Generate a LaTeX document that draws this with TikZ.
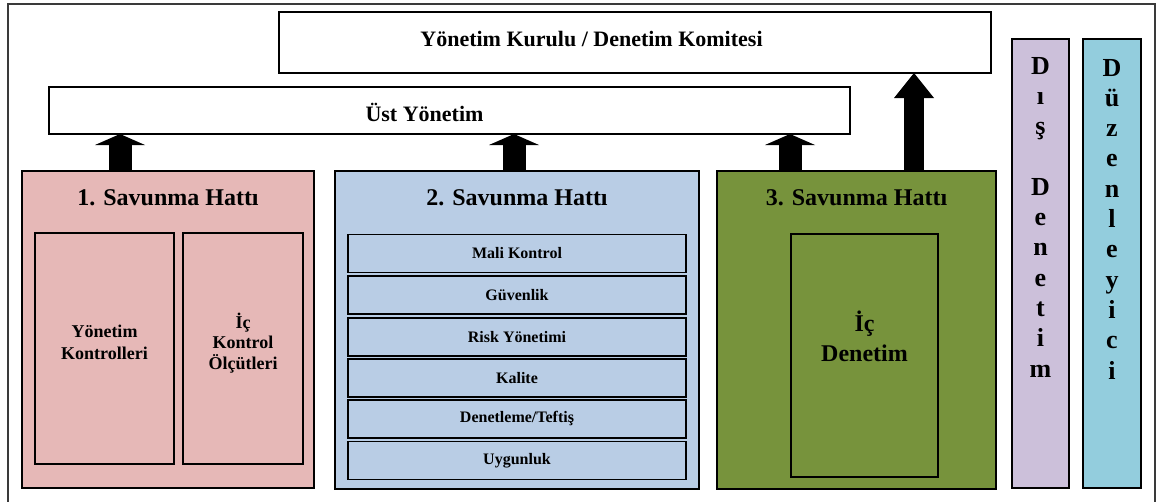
\documentclass[tikz,border=0pt]{standalone}
\usepackage{fontspec}
\setmainfont{Liberation Serif}
\usetikzlibrary{arrows.meta}
\definecolor{pinkf}{HTML}{E6B8B7}
\definecolor{bluef}{HTML}{B9CDE5}
\definecolor{greenf}{HTML}{77933C}
\definecolor{lavf}{HTML}{CCC0DA}
\definecolor{cyanf}{HTML}{93CDDD}
\definecolor{framec}{HTML}{3A3A3A}
\begin{document}
\begin{tikzpicture}[x=1pt,y=-1pt,
  box/.style={draw=black,line width=1.6pt,inner sep=0pt,outer sep=0pt},
  rowbox/.style={box,fill=bluef,minimum width=338pt,minimum height=38pt,
     font=\bfseries\fontsize{16}{19}\selectfont},
  bigtxt/.style={inner sep=0pt,align=center,font=\bfseries\fontsize{24}{30}\selectfont},
  toptxt/.style={inner sep=0pt,align=center,font=\bfseries\fontsize{22}{26}\selectfont},
  midtxt/.style={inner sep=0pt,align=center,font=\bfseries\fontsize{18}{#1}\selectfont},
  coltxt/.style={inner sep=0pt,align=center,font=\bfseries\fontsize{26}{30.3}\selectfont},
  blk/.style={line width=23pt,-{Triangle[width=50pt,length=11pt,line width=0pt]}},
  blktall/.style={line width=20pt,-{Triangle[width=40pt,length=25pt,line width=0pt]}}
]
\useasboundingbox (0,0) rectangle (1157,501);
\fill[white] (0,0) rectangle (1157,501);
% outer frame
\coordinate (fbl) at (8,503);
\coordinate (ftl) at (8,4);
\coordinate (ftr) at (1155,4);
\coordinate (fbr) at (1155,503);
\draw[framec,line width=1.5pt] (fbl) -- (ftl) -- (ftr) -- (fbr);

% top boxes
\node[box,fill=white,minimum width=712pt,minimum height=61pt] (kurul) at (635,42.5) {};
\node[toptxt] (kurult) at (591.5,39) {Yönetim Kurulu / Denetim Komitesi};
\node[box,fill=white,minimum width=801pt,minimum height=47pt] (ust) at (449.5,110.5) {};
\node[toptxt] (ustt) at (424.5,112) {Üst Yönetim};

% line 1
\node[box,fill=pinkf,minimum width=292pt,minimum height=317pt] (l1) at (168,329.5) {};
\node[bigtxt] (l1t) at (168,198) {1. Savunma Hattı};
\node[box,fill=pinkf,minimum width=139pt,minimum height=231pt] (l1a) at (104.5,348.5) {};
\node[midtxt=22] (l1at) at (104.5,342) {Yönetim\\Kontrolleri};
\node[box,fill=pinkf,minimum width=120pt,minimum height=231pt] (l1b) at (243,348.5) {};
\node[midtxt=20.5] (l1bt) at (243,343) {İç\\Kontrol\\Ölçütleri};

% line 2
\node[box,fill=bluef,minimum width=364pt,minimum height=318pt] (l2) at (517,330) {};
\node[bigtxt] (l2t) at (517,198) {2. Savunma Hattı};
\node[rowbox] (r1) at (517,253.5) {Mali Kontrol};
\node[rowbox] (r2) at (517,295) {Güvenlik};
\node[rowbox] (r3) at (517,337) {Risk Yönetimi};
\node[rowbox] (r4) at (517,378) {Kalite};
\node[rowbox] (r5) at (517,419) {Denetleme/Teftiş};
\node[rowbox] (r6) at (517,460.5) {Uygunluk};

% line 3
\node[box,fill=greenf,minimum width=279pt,minimum height=318pt] (l3) at (856.5,330) {};
\node[bigtxt] (l3t) at (856.5,198) {3. Savunma Hattı};
\node[box,fill=greenf,minimum width=147pt,minimum height=243pt] (l3a) at (864.5,355.5) {};
\node[bigtxt] (l3at) at (864.5,336) {İç\\Denetim};

% side columns
\node[box,fill=lavf,minimum width=57pt,minimum height=449pt] (dis) at (1040.5,263.5) {};
\node[coltxt] (dist) at (1040.5,217) {D\\ı\\ş\\\mbox{}\\D\\e\\n\\e\\t\\i\\m};
\node[box,fill=cyanf,minimum width=58pt,minimum height=449pt] (duz) at (1112,263.5) {};
\node[coltxt] (duzt) at (1112,219) {D\\ü\\z\\e\\n\\l\\e\\y\\i\\c\\i};

% arrows
\draw[blk] ([xshift=-48pt]l1.north) -- ([xshift=-48pt]l1.north |- ust.south);
\draw[blk] ([xshift=-3pt]l2.north) -- ([xshift=-3pt]l2.north |- ust.south);
\draw[blk] ([xshift=-66.5pt]l3.north) -- ([xshift=-66.5pt]l3.north |- ust.south);
\draw[blktall] ([xshift=57.5pt]l3.north) -- ([xshift=57.5pt]l3.north |- kurul.south);
\end{tikzpicture}
\end{document}
